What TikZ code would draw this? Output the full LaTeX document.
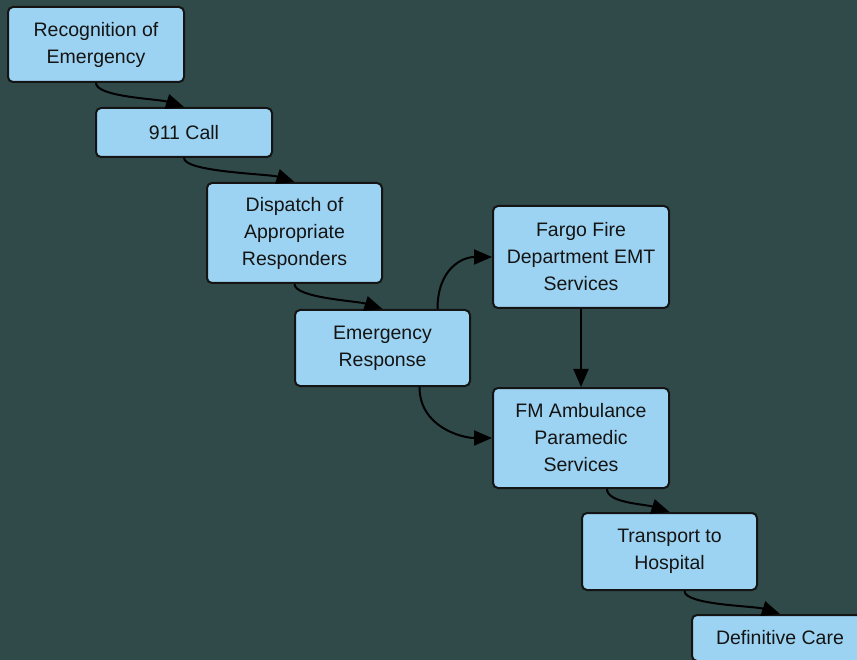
\documentclass[tikz,border=0pt]{standalone}
\usepackage{fontspec}
\setmainfont{Liberation Sans}
\usetikzlibrary{arrows.meta}
\definecolor{bg}{RGB}{48,74,74}
\definecolor{boxfill}{RGB}{157,211,242}
\definecolor{ink}{RGB}{20,20,20}
\tikzset{
  flowbox/.style={draw=ink, fill=boxfill, line width=2pt, rounded corners=5pt,
    align=center, text=ink, inner sep=0pt, minimum width=176pt,
    font=\fontsize{19.5}{27}\selectfont},
  conn/.style={draw=black, line width=2pt, -{Triangle[length=18pt,width=15pt]}}
}
\begin{document}
\begin{tikzpicture}[x=1pt,y=-1pt]
\fill[bg] (0,0) rectangle (857,660);
\useasboundingbox (0,0) rectangle (857,660);
\clip (0,0) rectangle (857,660);
\node[flowbox, minimum height=75pt] (rec) at (96,44.5) {Recognition of\\Emergency};
\node[flowbox, minimum height=49pt] (call) at (184,132.5) {911 Call};
\node[flowbox, minimum width=175pt, minimum height=100pt] (disp) at (294.5,233) {Dispatch of\\Appropriate\\Responders};
\node[flowbox, minimum width=175pt, minimum height=76pt] (resp) at (382.5,348) {Emergency\\Response};
\node[flowbox, minimum height=102pt] (fire) at (581,257) {Fargo Fire\\Department EMT\\Services};
\node[flowbox, minimum height=100pt] (amb) at (581,438) {FM Ambulance\\Paramedic\\Services};
\node[flowbox, minimum width=175pt, minimum height=77pt] (trans) at (669.5,551.5) {Transport to\\Hospital};
\node[flowbox, minimum height=46pt] (def) at (780,638) {Definitive Care};
\coordinate (respTop) at ([xshift=55pt]resp.north);
\coordinate (respBot) at ([xshift=37pt]resp.south);
\coordinate (ambBot) at ([xshift=26pt]amb.south);
\coordinate (transBot) at ([xshift=15pt]trans.south);
\draw[conn] (rec.south) .. controls +(0,14) and +(-25,-8) .. (call.north);
\draw[conn] (call.south) .. controls +(0,14) and +(-25,-8) .. (disp.north);
\draw[conn] (disp.south) .. controls +(0,14) and +(-25,-8) .. (resp.north);
\draw[conn] (respTop) .. controls +(0,-40) and +(-30,0) .. (fire.west);
\draw[conn] (respBot) .. controls +(0,40) and +(-30,0) .. (amb.west);
\draw[conn] (fire.south) -- (amb.north);
\draw[conn] (ambBot) .. controls +(0,14) and +(-25,-8) .. (trans.north);
\draw[conn] (transBot) .. controls +(0,14) and +(-25,-8) .. (def.north);
\end{tikzpicture}
\end{document}
